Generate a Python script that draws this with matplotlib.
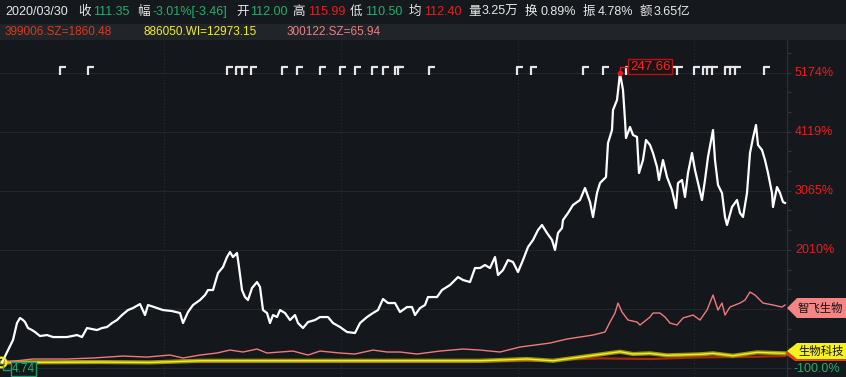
import matplotlib
matplotlib.use("Agg")
import matplotlib.pyplot as plt
from matplotlib.path import Path
from matplotlib.patches import Polygon, Rectangle
import matplotlib.transforms as mtransforms

plt.rcParams['font.family'] = ['Liberation Sans', 'Noto Sans CJK SC']

# ---- data (t = time position, values = % change from start) ----
white_t = [2, 13, 17, 20, 23, 25, 28, 32, 35, 40, 47, 53, 58, 67, 72, 77, 82, 87, 92, 97,
           102, 107, 112, 117, 122, 128, 133, 140, 145, 148, 157, 163, 172, 180, 183, 188,
           193, 200, 205, 208, 213, 218, 223, 227, 230, 233, 237, 239, 242, 245, 248, 252,
           257, 260, 263, 267, 270, 273, 277, 280, 285, 290, 295, 298, 303, 308, 315, 320,
           328, 333, 340, 347, 355, 360, 367, 373, 378, 383, 388, 395, 400, 407, 412, 415,
           420, 425, 428, 437, 442, 450, 458, 463, 470, 475, 480, 485, 490, 495, 498, 503,
           508, 513, 518, 523, 528, 533, 538, 542, 547, 552, 555, 558, 562, 563, 568, 573,
           580, 585, 590, 593, 597, 600, 606, 608, 612, 613, 617, 620, 623, 625, 626, 630,
           633, 637, 639, 643, 646, 650, 653, 657, 659, 663, 667, 672, 676, 678, 682, 685,
           688, 692, 695, 698, 702, 705, 708, 713, 715, 718, 722, 725, 727, 732, 737, 740,
           743, 747, 750, 753, 756, 758, 762, 765, 768, 772, 773, 777, 780, 783, 785]
white_v = [0, 400, 703, 793, 757, 721, 614, 578, 543, 471, 489, 453, 453, 453, 471, 489, 453,
           614, 596, 578, 614, 632, 703, 757, 846, 935, 971, 1042, 846, 1025, 971, 935, 917,
           882, 703, 900, 1025, 1114, 1203, 1292, 1292, 1596, 1703, 1881, 1971, 1881, 1953,
           1703, 1292, 1167, 1114, 1328, 1435, 1346, 935, 882, 703, 846, 810, 935, 882, 757,
           846, 703, 614, 721, 757, 810, 810, 703, 632, 543, 525, 703, 810, 882, 935, 1132,
           1060, 1060, 900, 989, 989, 846, 971, 1025, 1167, 1167, 1292, 1382, 1524, 1471,
           1435, 1685, 1685, 1739, 1685, 1881, 1560, 1649, 1828, 1792, 1614, 1828, 2060,
           2185, 2363, 2453, 2310, 2185, 2007, 2310, 2399, 2542, 2667, 2810, 2899, 3113,
           2863, 2596, 3024, 3202, 3309, 3916, 4148, 4505, 4684, 5160, 4862, 4327, 4006,
           4202, 4060, 4024, 3381, 3613, 3970, 3881, 3738, 3488, 3256, 3613, 3309, 3077,
           2756, 3202, 3256, 2953, 3381, 3738, 3434, 3202, 2899, 3256, 3667, 4148, 3613,
           3167, 3024, 2596, 2453, 2774, 2899, 2667, 2596, 3024, 3738, 4006, 4238, 3881,
           3792, 3613, 3381, 3024, 2774, 3131, 3024, 2863, 2846]

pink_t = [2, 33, 67, 93, 123, 147, 170, 183, 200, 217, 230, 243, 257, 267, 280, 293, 308,
          320, 340, 355, 373, 387, 400, 417, 440, 463, 480, 500, 520, 550, 567, 593, 605,
          610, 615, 618, 622, 628, 637, 640, 650, 653, 660, 665, 670, 677, 683, 693, 700,
          707, 713, 718, 722, 725, 730, 740, 745, 750, 755, 763, 773, 782, 785]
pink_v = [0, 61, 61, 79, 114, 96, 132, 79, 132, 168, 221, 186, 239, 168, 186, 203, 132,
          203, 168, 150, 221, 186, 186, 150, 203, 239, 221, 186, 275, 346, 418, 489, 543,
          721, 882, 1060, 900, 757, 721, 668, 810, 882, 882, 810, 703, 668, 793, 846, 757,
          935, 1203, 935, 1060, 846, 989, 1060, 1114, 1257, 1203, 1060, 1025, 989, 1025]

yellow_t = [2, 100, 150, 200, 300, 400, 480, 527, 553, 583, 620, 633, 650, 667, 700, 713,
            733, 757, 785]
yellow_v = [0, 7, 0, 30, 30, 30, 30, 61, 30, 102, 191, 150, 162, 127, 145, 162, 120, 180, 162]

red_t = [2, 100, 200, 300, 400, 467, 533, 600, 650, 700, 740, 785]
red_v = [0, 0, 7, 7, 7, 7, 30, 73, 61, 91, 96, 114]

signal_t = [60, 88, 227, 236, 242, 251, 282, 297, 320, 340, 355, 372, 383, 395, 398, 429,
            517, 531, 583, 603, 626, 645, 650, 671, 677, 694, 703, 707, 712, 725, 730, 735,
            764]

axis_ticks = [5174, 4119, 3065, 2010]
grid_levels = [-100, 954.8, 2010, 3065, 4119, 5174]
vgrid_t = [164, 341, 518, 694]

peak_price = "247.66"
start_price = "4.74"

GREEN = '#1fb26b'
RED = '#f01c1c'
WHITE = '#e8e8e8'
header1 = [("2020/03/30", WHITE, 5), ("收", WHITE, 78), ("111.35", GREEN, 93),
           ("幅", WHITE, 137), ("-3.01%[-3.46]", GREEN, 152), ("开", WHITE, 236),
           ("112.00", GREEN, 250), ("高", WHITE, 292), ("115.99", RED, 308),
           ("低", WHITE, 350), ("110.50", GREEN, 365), ("均", WHITE, 409),
           ("112.40", RED, 424), ("量", WHITE, 468), ("3.25万", WHITE, 482),
           ("换", WHITE, 525), ("0.89%", WHITE, 540), ("振", WHITE, 583),
           ("4.78%", WHITE, 598), ("额", WHITE, 640), ("3.65亿", WHITE, 654)]
header2 = [("399006.SZ=1860.48", '#dd3a18', 5), ("886050.WI=12973.15", '#f2f020', 143),
           ("300122.SZ=65.94", '#f07e7e', 287)]

# ---- figure ----
W, H = 846, 377
fig = plt.figure(figsize=(W / 100, H / 100), dpi=100)
fig.patch.set_facecolor('#15181c')


def fx(x):
    return x / W


def fy(y):
    return 1 - y / H


fig.add_artist(Rectangle((0, fy(40)), 1, (40 - 24) / H, transform=fig.transFigure,
                         facecolor='#212429', edgecolor='none'))

for txt, col, x in header1:
    fig.text(fx(x), fy(12), txt, color=col, fontsize=9, va='center', ha='left')
for txt, col, x in header2:
    fig.text(fx(x), fy(32), txt, color=col, fontsize=8.5, va='center', ha='left')

ax = fig.add_axes([0, 0, 787 / W, (377 - 40) / H])
ax.set_facecolor('#14171c')
ax.set_xlim(0, 787)
ax.set_ylim(-260, 5755)
for s in ['top', 'left', 'bottom']:
    ax.spines[s].set_visible(False)
ax.spines['right'].set_color('#2c2f35')
ax.set_xticks([])
ax.yaxis.tick_right()
ax.set_yticks([-100 + k * 1054.8 / 3 for k in range(0, 17)])
ax.tick_params(axis='y', length=3, color='#33363c', labelright=False, labelleft=False)

for g in grid_levels:
    ax.axhline(g, color='#23262b', lw=0.8, zorder=0)
for v in vgrid_t:
    ax.axvline(v, color='#2a2d33', lw=0.8, ls=(0, (1, 2)), zorder=0)

# lines
ax.plot(red_t, red_v, color='#a82a10', lw=1.6, zorder=3)
ax.plot(yellow_t, yellow_v, color='#9a9614', lw=3.0, zorder=3.5)
ax.plot(yellow_t, yellow_v, color='#f4f020', lw=1.0, zorder=4)
ax.plot(pink_t, pink_v, color='#f07a7a', lw=1.0, zorder=4)
ax.plot(white_t, white_v, color='#ffffff', lw=1.6, zorder=5)

# signal marks along the top
gamma = Path([(0, -8), (0, 0), (6, 0)], [Path.MOVETO, Path.LINETO, Path.LINETO])
ax.plot(signal_t, [5270] * len(signal_t), ls='none', marker=gamma, markersize=11.5,
        markerfacecolor='none', markeredgecolor='#e6e6e6', markeredgewidth=1.6, zorder=6)

# start marker
ax.plot([white_t[0] - 1], [0], marker='o', markersize=7, markerfacecolor='none',
        markeredgecolor='#f4f020', markeredgewidth=1.6, zorder=7)

# peak annotation
i_peak = white_v.index(max(white_v))
pt, pv = white_t[i_peak], white_v[i_peak]
ax.plot([pt, pt, pt + 9], [pv, pv + 120, pv + 120], color='#d01818', lw=1.0, zorder=8)
ax.plot([pt], [pv], marker='o', markersize=3, color='#e01818', zorder=8)
ax.text(pt + 10, pv + 120, peak_price, color='#ff2020', fontsize=9.5, va='center', ha='left',
        zorder=9, bbox=dict(boxstyle='square,pad=0.12', facecolor='#1a1416',
                            edgecolor='#b01515', lw=1.0))

# start annotation
ax.plot([white_t[0] + 1, white_t[0] + 1, 11], [-40, -130, -130], color='#1a9e6a', lw=1.0,
        zorder=8, clip_on=False)
ax.text(12, -122, start_price, color=GREEN, fontsize=8.5, va='center', ha='left', zorder=9,
        bbox=dict(boxstyle='square,pad=0.08', facecolor='#14171c', edgecolor='#1a9e6a',
                  lw=1.0))

# right axis labels
trans = mtransforms.blended_transform_factory(ax.transAxes, ax.transData)
for v in axis_ticks:
    ax.text(1.0 + 8 / 787, v, f"{v}%", transform=trans, color=RED, fontsize=9,
            va='center', ha='left', clip_on=False)
fig.text(fx(793), fy(369), "-100.0%", color=GREEN, fontsize=9, va='center', ha='left')

# right tags
pink_tag = [(787, 308), (797, 298), (846, 298), (846, 318), (797, 318)]
fig.add_artist(Polygon([(fx(x), fy(y)) for x, y in pink_tag], closed=True,
                       transform=fig.transFigure, facecolor='#f58585', edgecolor='none'))
fig.text(fx(798), fy(308), "智飞生物", color='#111111', fontsize=8.2, va='center', ha='left')

red_tag = [(785, 354), (795, 345), (846, 345), (846, 361), (795, 361)]
fig.add_artist(Polygon([(fx(x), fy(y)) for x, y in red_tag], closed=True,
                       transform=fig.transFigure, facecolor='#e2401a', edgecolor='none'))
yel_tag = [(787, 351), (797, 343), (846, 343), (846, 359), (797, 359)]
fig.add_artist(Polygon([(fx(x), fy(y)) for x, y in yel_tag], closed=True,
                       transform=fig.transFigure, facecolor='#f6f21e', edgecolor='none'))
fig.text(fx(798), fy(351), "生物科技", color='#111111', fontsize=8.2, va='center', ha='left')

fig.savefig("out.png", dpi=100, facecolor=fig.get_facecolor())
